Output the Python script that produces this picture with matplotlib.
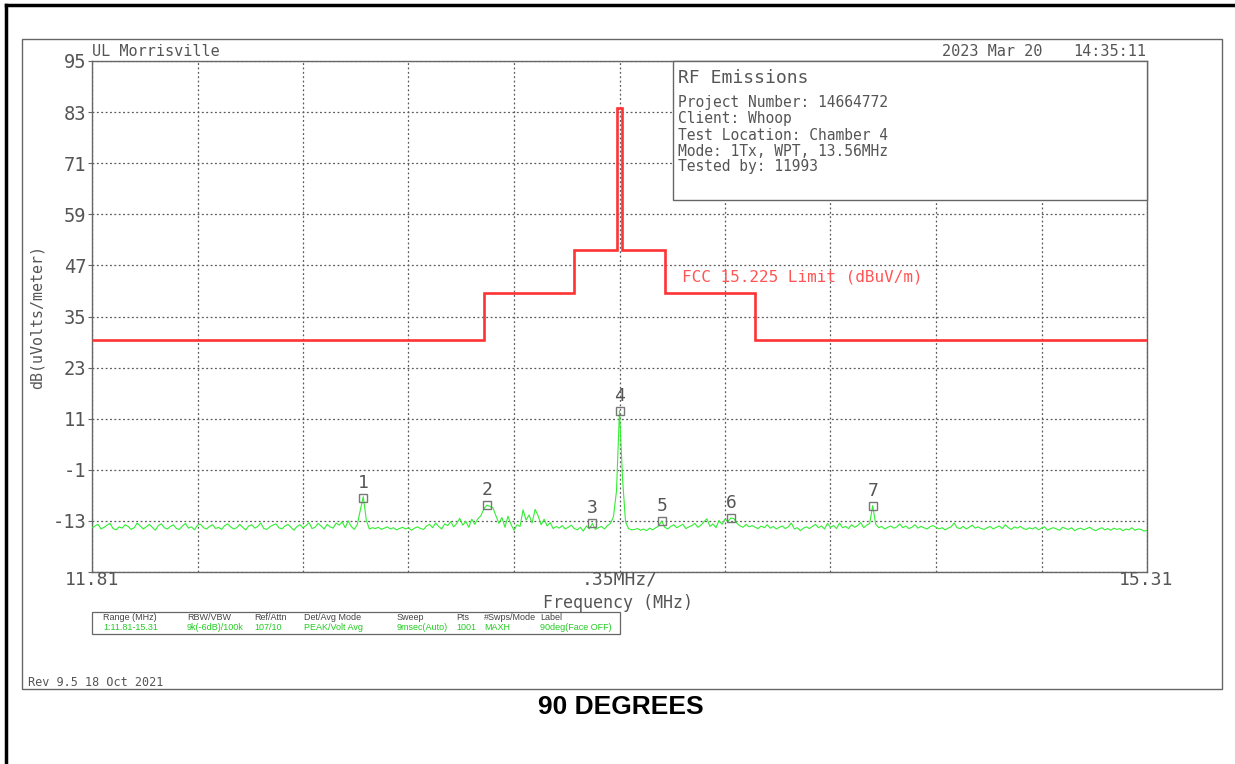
import matplotlib
matplotlib.use("Agg")
import matplotlib.pyplot as plt
from matplotlib.patches import Rectangle
from matplotlib.lines import Line2D
import numpy as np

# ---------------- data ----------------
f_start, f_stop, f_step = 11.81, 15.31, 0.01
trace_db = [
    -14.6, -14.2, -13.8, -14.9, -14.5, -14.0, -13.6, -14.8, -15.1, -14.4,
    -14.7, -13.9, -14.3, -15.0, -14.6, -13.5, -14.2, -14.9, -14.4, -13.8,
    -14.5, -15.2, -14.1, -13.7, -14.6, -14.9, -14.3, -13.9, -14.8, -15.0,
    -14.2, -13.6, -14.7, -14.4, -15.1, -14.0, -13.8, -14.6, -14.9, -14.3,
    -13.9, -14.8, -14.5, -15.0, -14.1, -13.7, -14.4, -14.9, -14.6, -13.8,
    -14.5, -15.1, -14.2, -13.9, -14.7, -14.3, -13.5, -14.8, -15.0, -14.4,
    -14.0, -13.7, -14.6, -14.9, -14.2, -13.8, -14.5, -15.2, -14.3, -13.9,
    -14.6, -14.1, -13.4, -14.8, -14.5, -13.6, -14.2, -14.9, -13.8, -14.4,
    -14.7, -13.5, -14.0, -13.2, -14.6, -13.0, -14.3, -15.0, -13.9, -10.5,
    -7.3, -12.8, -14.9, -14.6, -14.8, -14.5, -15.0, -14.7, -14.4, -14.9,
    -14.6, -15.1, -14.8, -14.5, -14.9, -14.6, -15.2, -14.7, -14.4, -14.8,
    -15.0, -14.2, -13.8, -14.6, -13.5, -14.3, -14.9, -13.7, -14.1, -13.2,
    -14.4, -13.6, -12.4, -14.0, -13.1, -14.5, -12.6, -13.8, -12.5, -11.8,
    -10.2, -9.3, -9.6, -9.9, -11.8, -13.6, -12.2, -14.5, -11.9, -13.8,
    -15.2, -13.9, -14.3, -10.4, -12.8, -11.6, -13.5, -10.3, -11.8, -13.9,
    -12.6, -14.2, -13.4, -14.8, -14.3, -14.7, -14.1, -14.9, -14.5, -14.0,
    -14.8, -15.1, -14.5, -15.4, -14.2, -14.9, -13.6, -15.0, -14.6, -14.3,
    -14.9, -14.1, -13.6, -12.0, -6.0, 12.9, -3.0, -13.2, -14.8, -15.1,
    -15.0, -14.8, -15.2, -14.9, -15.3, -14.7, -15.1, -14.6, -14.2, -13.0,
    -14.5, -14.9, -14.3, -13.9, -14.6, -14.2, -13.8, -14.8, -14.4, -14.1,
    -13.6, -14.5, -14.0, -13.2, -12.5, -14.3, -13.7, -14.6, -12.9, -13.8,
    -12.6, -13.1, -12.3, -12.5, -13.6, -14.2, -14.5, -13.8, -14.4, -14.1,
    -14.5, -14.8, -14.2, -14.6, -13.9, -14.7, -14.3, -14.9, -14.5, -14.2,
    -14.8, -14.4, -13.5, -14.9, -14.6, -15.3, -14.7, -14.4, -14.8, -14.3,
    -13.8, -14.6, -14.2, -14.9, -13.6, -14.5, -14.1, -14.8, -13.5, -14.6,
    -14.3, -14.8, -13.9, -14.5, -14.1, -13.4, -14.6, -14.0, -13.6, -9.4,
    -13.8, -14.6, -14.3, -14.9, -14.5, -14.2, -14.7, -14.4, -13.7, -14.6,
    -14.2, -14.8, -14.5, -13.9, -14.7, -14.3, -14.6, -14.9, -14.4, -14.1,
    -14.5, -14.9, -14.6, -15.1, -14.7, -14.4, -13.5, -14.6, -14.8, -14.3,
    -14.9, -14.5, -14.0, -14.7, -14.4, -14.8, -15.0, -14.6, -14.3, -14.9,
    -14.5, -14.2, -14.8, -13.9, -14.6, -15.0, -14.4, -14.7, -14.3, -14.8,
    -15.0, -14.6, -14.9, -14.5, -15.1, -14.7, -14.4, -15.2, -14.8, -14.6,
    -14.9, -15.2, -14.5, -14.8, -15.0, -14.6, -15.3, -14.9, -14.7, -15.1,
    -14.8, -14.5, -15.0, -15.3, -14.9, -14.6, -15.1, -14.8, -15.2, -14.7,
    -15.0, -14.8, -15.3, -14.9, -15.1, -14.6, -15.2, -14.9, -15.0, -15.4,
    -15.2,
]
trace_freq = np.round(f_start + f_step * np.arange(len(trace_db)), 3)

limit_edges = [11.81, 13.110, 13.410, 13.553, 13.567, 13.710, 14.010, 15.31]
limit_levels = [29.5, 40.5, 50.5, 84.0, 50.5, 40.5, 29.5]

marker_ids = ["1", "2", "3", "4", "5", "6", "7"]
marker_freq = [12.71, 13.12, 13.47, 13.56, 13.70, 13.93, 14.40]
marker_level = [-7.6, -9.2, -13.5, 12.9, -13.0, -12.3, -9.5]

y_ticks = [95, 83, 71, 59, 47, 35, 23, 11, -1, -13]
x_div = 0.35

info_title = "RF Emissions"
info_lines = ["Project Number: 14664772", "Client: Whoop",
              "Test Location: Chamber 4", "Mode: 1Tx, WPT, 13.56MHz",
              "Tested by: 11993"]

table_headers = ["Range (MHz)", "RBW/VBW", "Ref/Attn", "Det/Avg Mode",
                 "Sweep", "Pts", "#Swps/Mode", "Label"]
table_values = ["1:11.81-15.31", "9k(-6dB)/100k", "107/10", "PEAK/Volt Avg",
                "9msec(Auto)", "1001", "MAXH", "90deg(Face OFF)"]

# ---------------- figure ----------------
W, H = 1235, 764
fig = plt.figure(figsize=(W / 100, H / 100), dpi=100)
fig.patch.set_facecolor("white")
plt.rcParams["font.family"] = ["DejaVu Sans Mono", "DejaVu Sans"]

def P(x, y):
    return x / W, 1 - y / H

TXT = "#555555"
GRID = "#5a5a5a"
GREEN = "#33ee33"
RED = "#ff3333"
MONO = ["DejaVu Sans Mono", "DejaVu Sans"]

# plot axes
x0, x1, y0, y1 = 92, 1147, 61, 572
ax = fig.add_axes([x0 / W, 1 - y1 / H, (x1 - x0) / W, (y1 - y0) / H])
ax.set_xlim(f_start, f_stop)
ax.set_ylim(-25, 95)
for s in ax.spines.values():
    s.set_color("#666666")
    s.set_linewidth(1.0)

xt = [f_start + x_div * k for k in range(11)]
ax.set_xticks(xt)
ax.set_xticklabels([])
ax.set_yticks(y_ticks + [-25])
ax.set_yticklabels([str(v) for v in y_ticks] + [""], fontsize=13.5, color=TXT, family=MONO)
ax.tick_params(axis="x", length=0)
ax.tick_params(axis="y", length=3, color="#666666", pad=1)
ax.grid(True, color=GRID, linestyle=(0, (1.5, 2.0)), linewidth=0.9)
ax.set_axisbelow(True)

# limit line
ax.stairs(limit_levels, limit_edges, color=RED, linewidth=1.9, baseline=None, zorder=3)

# trace
ax.plot(trace_freq, trace_db, color=GREEN, linewidth=0.8, zorder=4)

# markers
ax.plot(marker_freq, marker_level, linestyle="none", marker="s", markersize=5.5,
        markerfacecolor="none", markeredgecolor="#777777", markeredgewidth=1.0, zorder=5)
for lab, mf, ml in zip(marker_ids, marker_freq, marker_level):
    ax.annotate(lab, (mf, ml), xytext=(0, 4), textcoords="offset points",
                ha="center", va="bottom", fontsize=13, color=TXT, zorder=6, family=MONO)

# info box (covers grid)
bx0, by0, bx1, by1 = 673, 61, 1147, 200
fig.patches.append(Rectangle(P(bx0, by1), (bx1 - bx0) / W, (by1 - by0) / H,
                             transform=fig.transFigure, facecolor="white",
                             edgecolor="#666666", linewidth=1.0, zorder=10))
fig.text(*P(678, 78), info_title, fontsize=13, color=TXT, va="center", ha="left",
         zorder=11, family=MONO)
for i, line in enumerate(info_lines):
    fig.text(*P(678, 103 + 16 * i), line, fontsize=10.5, color=TXT, va="center",
             ha="left", zorder=11, family=MONO)

# limit label
fig.text(*P(682, 277), "FCC 15.225 Limit (dBuV/m)", fontsize=11.5, color="#ff5555",
         va="center", ha="left", family=MONO)

# header texts
fig.text(*P(92, 51), "UL Morrisville", fontsize=11, color=TXT, va="center", ha="left", family=MONO)
fig.text(*P(942, 51), "2023 Mar 20", fontsize=11, color=TXT, va="center", ha="left", family=MONO)
fig.text(*P(1146, 51), "14:35:11", fontsize=11, color=TXT, va="center", ha="right", family=MONO)

# axis labels
fig.text(*P(92, 580), "11.81", fontsize=13, color=TXT, va="center", ha="center", family=MONO)
fig.text(*P(620, 580), ".35MHz/", fontsize=13, color=TXT, va="center", ha="center", family=MONO)
fig.text(*P(1146, 580), "15.31", fontsize=13, color=TXT, va="center", ha="center", family=MONO)
fig.text(*P(618, 603), "Frequency (MHz)", fontsize=12, color=TXT, va="center", ha="center", family=MONO)
fig.text(*P(37, 317), "dB(uVolts/meter)", fontsize=10.8, color=TXT, va="center",
         ha="center", rotation=90, family=MONO)

# settings table
tx0, ty0, tx1, ty1 = 92, 612, 620, 634
fig.patches.append(Rectangle(P(tx0, ty1), (tx1 - tx0) / W, (ty1 - ty0) / H,
                             transform=fig.transFigure, facecolor="none",
                             edgecolor="#666666", linewidth=0.9))
col_x = [103, 187, 254, 304, 397, 456, 484, 540]
narrow = ["Liberation Sans", "DejaVu Sans"]
for cx, h, v in zip(col_x, table_headers, table_values):
    fig.text(*P(cx, 618), h, fontsize=6.5, color="#444444", va="center", ha="left", family=narrow)
    fig.text(*P(cx, 628), v, fontsize=6.5, color="#22cc22", va="center", ha="left", family=narrow)

fig.text(*P(28, 682), "Rev 9.5 18 Oct 2021", fontsize=8.5, color=TXT, va="center",
         ha="left", family=MONO)

# inner frame
fig.patches.append(Rectangle(P(22, 689), (1222 - 22) / W, (689 - 39) / H,
                             transform=fig.transFigure, facecolor="none",
                             edgecolor="#666666", linewidth=1.0))
# outer frame (top and left)
fig.lines.append(Line2D([6 / W, 1.0], [1 - 5 / H, 1 - 5 / H], transform=fig.transFigure,
                        color="black", linewidth=2.5))
fig.lines.append(Line2D([6 / W, 6 / W], [0.0, 1 - 5 / H], transform=fig.transFigure,
                        color="black", linewidth=2.5))

fig.text(*P(621, 707), "90 DEGREES", fontsize=19, fontweight="bold", color="black",
         va="center", ha="center", family=["Liberation Sans", "DejaVu Sans"])

fig.savefig("out.png", dpi=100, facecolor="white")
